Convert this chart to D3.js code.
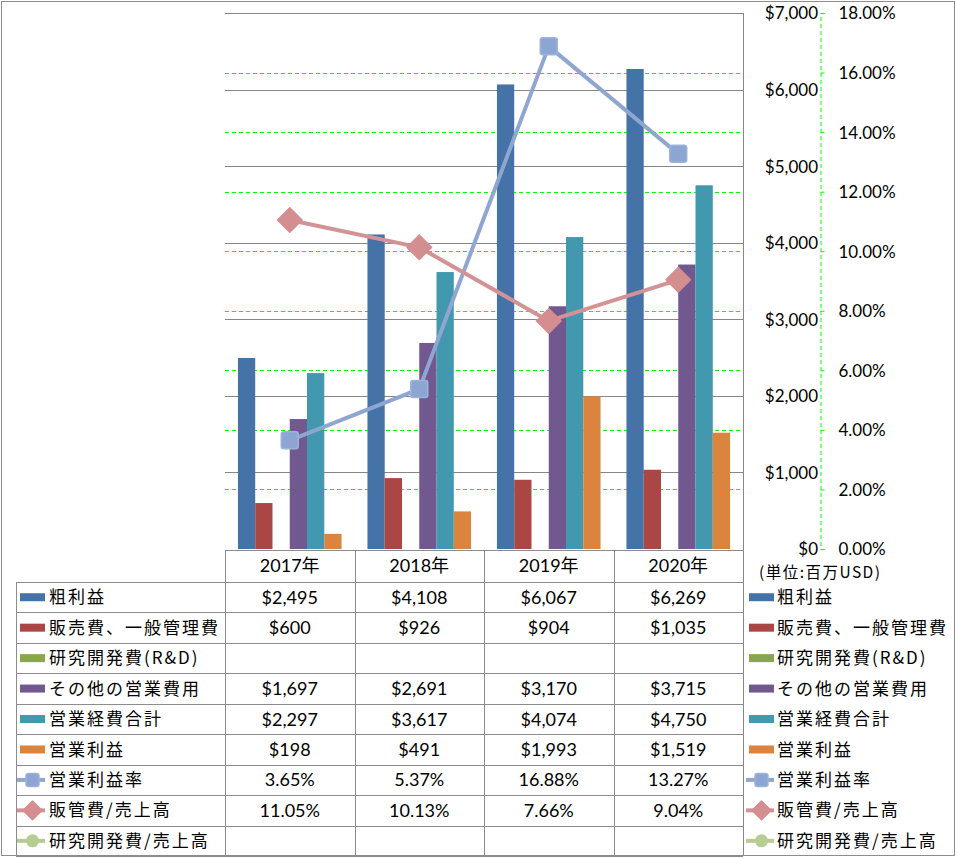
<!DOCTYPE html>
<html>
<head>
<meta charset="utf-8">
<script src="https://cdn.jsdelivr.net/npm/d3@7"></script>
<style>
body{margin:0;background:#fff;}
svg{display:block;}
text{fill:#000;}
</style>
</head>
<body>
<svg id="chart" width="957" height="858"></svg>
<script>
// ---- data ----
const years = ['2017年','2018年','2019年','2020年'];
const barSeriesNames = ['粗利益','販売費、一般管理費','研究開発費(R&D)','その他の営業費用','営業経費合計','営業利益'];
const grossProfit = [2495, 4108, 6067, 6269];
const sgaExpense = [600, 926, 904, 1035];
const rndExpense = [null, null, null, null];
const otherOpex = [1697, 2691, 3170, 3715];
const totalOpex = [2297, 3617, 4074, 4750];
const opIncome = [198, 491, 1993, 1519];
const lineSeriesNames = ['営業利益率','販管費/売上高','研究開発費/売上高'];
const opMargin = [3.65, 5.37, 16.88, 13.27];
const sgaRatio = [11.05, 10.13, 7.66, 9.04];
const rndRatio = [null, null, null, null];
const leftTicks = [0,1000,2000,3000,4000,5000,6000,7000];
const rightTicks = [0,2,4,6,8,10,12,14,16,18];
const unitLabel = '(単位:百万USD)';

const barColors = ['#4572A7','#AA4643','#89A54E','#71588F','#4198AF','#DB843D'];
const lineColors = ['#8FA7D0','#D39295','#B5CC8E'];
const markerFill = ['#8CA5D3','#D48E90','#B7CE92'];

const barData = [grossProfit, sgaExpense, rndExpense, otherOpex, totalOpex, opIncome];
const lineData = [opMargin, sgaRatio, rndRatio];

const svg = d3.select('#chart');
const plotL = 225, plotR = 743, plotT = 13, plotB = 549;

const x = d3.scaleBand().domain(years).range([plotL, plotR]).paddingInner(0).paddingOuter(0);
const x1 = d3.scaleBand().domain(d3.range(barSeriesNames.length)).range([0, x.bandwidth()]).paddingInner(0).paddingOuter(0.75);
const y = d3.scaleLinear().domain([0, 7000]).range([plotB, plotT]);
const y2 = d3.scaleLinear().domain([0, 18]).range([plotB, plotT]);

const numFont = "Lato, 'Noto Sans CJK JP', sans-serif";
const jpFont = "'Noto Sans CJK JP', sans-serif";

// outer border
svg.append('rect').attr('x',1.5).attr('y',1.5).attr('width',953).attr('height',854)
  .attr('fill','none').attr('stroke','#8c8c8c').attr('stroke-width',1);

// gridlines (left axis, gray)
svg.append('g').selectAll('line').data(leftTicks.filter(d=>d>0)).join('line')
  .attr('x1',plotL).attr('x2',plotR)
  .attr('y1',d=>Math.round(y(d))+0.5).attr('y2',d=>Math.round(y(d))+0.5)
  .attr('stroke','#868686').attr('stroke-width',1);
// gridlines (right axis, green dashed)
svg.append('g').selectAll('line').data(rightTicks.filter(d=>d>0 && d<18)).join('line')
  .attr('x1',plotL).attr('x2',plotR-2)
  .attr('y1',d=>Math.round(y2(d))+0.5).attr('y2',d=>Math.round(y2(d))+0.5)
  .attr('stroke','#00FF00').attr('stroke-width',1).attr('stroke-dasharray','4,3');
// plot right edge
svg.append('line').attr('x1',plotR+0.5).attr('x2',plotR+0.5).attr('y1',plotT).attr('y2',856)
  .attr('stroke','#868686');

// bars
const bars = svg.append('g');
barData.forEach((vals, si) => {
  bars.selectAll('rect.s'+si).data(vals.map((v,i)=>({v, yr: years[i]})).filter(d=>d.v!=null)).join('rect')
    .attr('class','s'+si)
    .attr('x', d => x(d.yr) + x1(si))
    .attr('width', x1.bandwidth())
    .attr('y', d => y(d.v))
    .attr('height', d => y(0) - y(d.v))
    .attr('fill', barColors[si]);
});

// left axis labels
const leftAxis = d3.axisLeft(y).tickValues(leftTicks).tickSize(0).tickPadding(0)
  .tickFormat(d => '$' + d3.format(',')(d));
const gl = svg.append('g').attr('transform','translate(818,0)').call(leftAxis);
gl.select('.domain').remove();
gl.selectAll('text').attr('font-family',numFont).attr('font-size',17).attr('fill','#000').attr('dy','0.35em');

// right axis
const rightAxis = d3.axisRight(y2).tickValues(rightTicks).tickSize(4).tickPadding(14)
  .tickFormat(d => d3.format('.2f')(d) + '%');
const gr = svg.append('g').attr('transform','translate(820.5,0)').call(rightAxis);
gr.select('.domain').attr('stroke','#00FF00').attr('stroke-dasharray','4,3');
gr.selectAll('.tick line').attr('stroke','#00FF00');
gr.selectAll('text').attr('font-family',numFont).attr('font-size',17).attr('fill','#000').attr('dy','0.35em');

svg.append('text').attr('x',759).attr('y',578).attr('font-family',jpFont).attr('font-size',15.5)
  .attr('textLength',121).attr('lengthAdjust','spacing').text(unitLabel);

// lines
const lineGen = d3.line().defined(d=>d.v!=null).x(d=>x(d.yr)+x.bandwidth()/2).y(d=>y2(d.v));
function marker(g, type, cx, cy, si, s) {
  if (type === 0) {
    g.append('rect').attr('x',cx-s/2).attr('y',cy-s/2).attr('width',s).attr('height',s).attr('rx',2.5)
      .attr('fill',markerFill[si]).attr('stroke','#9DB3DA').attr('stroke-width',1.5);
  } else if (type === 1) {
    const r = s*0.72;
    g.append('path').attr('d',`M${cx},${cy-r}L${cx+r},${cy}L${cx},${cy+r}L${cx-r},${cy}Z`)
      .attr('fill',markerFill[si]).attr('stroke',markerFill[si]).attr('stroke-width',1.5).attr('stroke-linejoin','round');
  } else {
    g.append('circle').attr('cx',cx).attr('cy',cy).attr('r',s/2).attr('fill',markerFill[si]);
  }
}
const lg = svg.append('g');
lineData.forEach((vals, si) => {
  const pts = vals.map((v,i)=>({v, yr: years[i]}));
  lg.append('path').datum(pts).attr('d',lineGen).attr('fill','none')
    .attr('stroke',lineColors[si]).attr('stroke-width',4).attr('stroke-linejoin','round');
});
lineData.forEach((vals, si) => {
  vals.forEach((v,i)=>{ if(v!=null) marker(lg, si, x(years[i])+x.bandwidth()/2, y2(v), si, 17); });
});

// ---- data table ----
const headerTop = 550, headerBot = 582, rowH = 30.45;
const tableLeft = 16;
const allNames = barSeriesNames.concat(lineSeriesNames);
const allVals = barData.map(a=>a.map(v=> v==null?'':'$'+d3.format(',')(v)))
  .concat(lineData.map(a=>a.map(v=> v==null?'':d3.format('.2f')(v)+'%')));
const nRows = allNames.length;
const tableBot = headerBot + nRows*rowH;
const tg = svg.append('g').attr('stroke','#8c8c8c').attr('stroke-width',1);
tg.append('line').attr('x1',plotL).attr('x2',plotR).attr('y1',headerTop+0.5).attr('y2',headerTop+0.5);
for (let r=0; r<=nRows; r++) {
  const yy = Math.round(headerBot + r*rowH)+0.5;
  tg.append('line').attr('x1',tableLeft).attr('x2',plotR).attr('y1',yy).attr('y2',yy);
}
tg.append('line').attr('x1',tableLeft+0.5).attr('x2',tableLeft+0.5).attr('y1',headerBot).attr('y2',tableBot);
years.forEach(yr=>{
  const xx = Math.round(x(yr))+0.5;
  tg.append('line').attr('x1',xx).attr('x2',xx).attr('y1',headerTop).attr('y2',tableBot);
});
svg.append('g').selectAll('text').data(years).join('text')
  .attr('x',d=>x(d)+x.bandwidth()/2).attr('y',(headerTop+headerBot)/2).attr('dy','0.36em')
  .attr('text-anchor','middle').attr('font-family',numFont).attr('font-size',18).text(d=>d);
allVals.forEach((vals, r)=>{
  const cy = headerBot + r*rowH + rowH/2;
  vals.forEach((t,i)=>{
    if(!t) return;
    svg.append('text').attr('x',x(years[i])+x.bandwidth()/2).attr('y',cy).attr('dy','0.36em')
      .attr('text-anchor','middle').attr('font-family',numFont).attr('font-size',18).text(t);
  });
});
function legendKey(kx, cy, r) {
  if (r < barSeriesNames.length) {
    svg.append('rect').attr('x',kx).attr('y',cy-4).attr('width',25).attr('height',8).attr('fill',barColors[r]);
  } else {
    const si = r - barSeriesNames.length;
    svg.append('line').attr('x1',kx-3).attr('x2',kx+25).attr('y1',cy).attr('y2',cy)
      .attr('stroke',lineColors[si]).attr('stroke-width',4);
    marker(svg, si, kx+12.5, cy, si, 13);
  }
}
allNames.forEach((name, r)=>{
  const cy = headerBot + r*rowH + rowH/2;
  legendKey(20, cy, r);
  svg.append('text').attr('x',49).attr('y',cy).attr('dy','0.36em').attr('font-family',jpFont)
    .attr('font-size',17).attr('letter-spacing',2).text(name);
  legendKey(749, cy, r);
  svg.append('text').attr('x',777).attr('y',cy).attr('dy','0.36em').attr('font-family',jpFont)
    .attr('font-size',17).attr('letter-spacing',2).text(name);
});
</script>
</body>
</html>
